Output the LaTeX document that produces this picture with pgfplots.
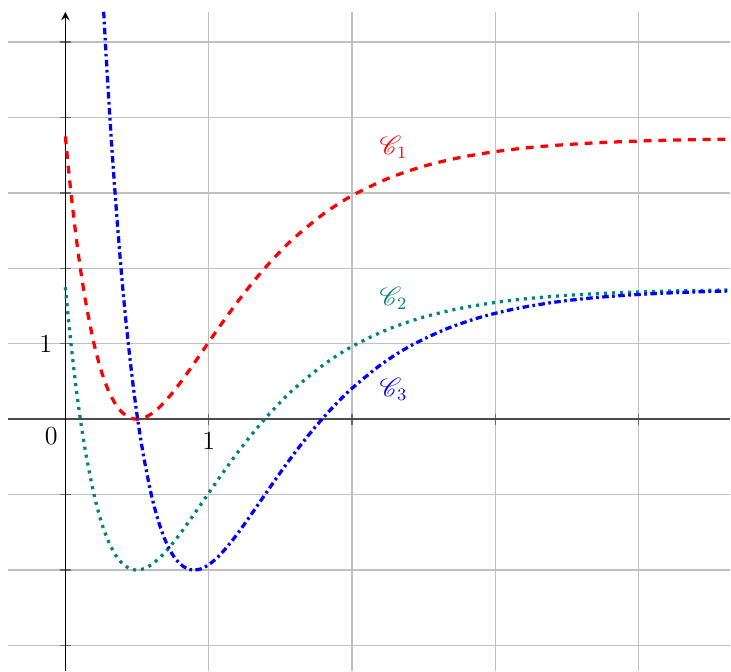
\documentclass[border=0pt]{standalone}
\usepackage{pgfplots}
\pgfplotsset{compat=1.18}
\usepackage{mathrsfs}

\begin{document}
\begin{tikzpicture}
\begin{axis}[
  scale only axis,
  width=332.6pt, height=303.6pt,
  xmin=-0.4, xmax=4.64,
  ymin=-3.34, ymax=5.4,
  axis lines=middle,
  axis line style={line width=0.7pt},
  x axis line style={-, black!70},
  y axis line style={-stealth},
  xtick={1,2,3,4}, xticklabels={1,{},{},{}},
  ytick={-3,-2,-1,1,2,3,4,5}, yticklabels={{},{},{},1,{},{},{},{}},
  tick label style={font=\large},
  tick align=center, major tick length=5pt,
  tick style={black!60, line width=0.6pt},
  grid=major, grid style={black!25, line width=0.6pt},
]
% C1
\addplot[red, line width=1.5pt, dash pattern=on 3.6pt off 3.2pt, smooth] coordinates {
  (0,3.75)(0.025,3.26)(0.05,2.82)(0.075,2.42)(0.1,2.06)(0.125,1.75)(0.15,1.47)
  (0.2,1.00)(0.25,0.644)(0.3,0.383)(0.35,0.200)(0.4,0.083)(0.45,0.019)(0.5,0)
  (0.55,0.019)(0.6,0.071)(0.65,0.148)(0.7,0.245)(0.75,0.357)(0.8,0.479)(0.85,0.610)
  (0.9,0.745)(1.0,1.020)(1.1,1.292)(1.2,1.552)(1.3,1.796)(1.4,2.020)(1.5,2.225)
  (1.6,2.409)(1.8,2.720)(2.0,2.964)(2.25,3.191)(2.5,3.354)(2.75,3.468)(3.0,3.548)
  (3.25,3.604)(3.5,3.642)(3.75,3.669)(4.0,3.688)(4.25,3.701)(4.5,3.710)(4.64,3.714)};
% C2
\addplot[teal, line width=1.5pt, dash pattern=on 1.4pt off 2.3pt, smooth] coordinates {
  (0,1.75)(0.025,1.26)(0.05,0.82)(0.075,0.42)(0.1,0.06)(0.125,-0.25)(0.15,-0.53)
  (0.2,-1.00)(0.25,-1.356)(0.3,-1.617)(0.35,-1.800)(0.4,-1.917)(0.45,-1.981)(0.5,-2)
  (0.55,-1.981)(0.6,-1.929)(0.65,-1.852)(0.7,-1.755)(0.75,-1.643)(0.8,-1.521)(0.85,-1.390)
  (0.9,-1.255)(1.0,-0.980)(1.1,-0.708)(1.2,-0.448)(1.3,-0.204)(1.4,0.020)(1.5,0.225)
  (1.6,0.409)(1.8,0.720)(2.0,0.964)(2.25,1.191)(2.5,1.354)(2.75,1.468)(3.0,1.548)
  (3.25,1.604)(3.5,1.642)(3.75,1.669)(4.0,1.688)(4.25,1.701)(4.5,1.710)(4.64,1.714)};
% C3
\addplot[blue, line width=1.5pt, dash pattern=on 3pt off 1.6pt on 1.2pt off 1.6pt, smooth] coordinates {
  (0.25,6.04)(0.26,5.67)(0.28,4.97)(0.30,4.33)(0.325,3.59)(0.35,2.92)(0.375,2.31)
  (0.4,1.75)(0.425,1.26)(0.45,0.82)(0.475,0.42)(0.5,0.06)(0.525,-0.25)(0.55,-0.53)
  (0.6,-1.00)(0.65,-1.356)(0.7,-1.617)(0.75,-1.800)(0.8,-1.917)(0.85,-1.981)(0.9,-2)
  (0.95,-1.981)(1.0,-1.929)(1.05,-1.852)(1.1,-1.755)(1.15,-1.643)(1.2,-1.521)(1.25,-1.390)
  (1.3,-1.255)(1.4,-0.980)(1.5,-0.708)(1.6,-0.448)(1.7,-0.204)(1.8,0.020)(1.9,0.225)
  (2.0,0.409)(2.2,0.720)(2.4,0.964)(2.65,1.191)(2.9,1.354)(3.15,1.468)(3.4,1.548)
  (3.65,1.604)(3.9,1.642)(4.15,1.669)(4.4,1.688)(4.64,1.700)};

\node[red, font=\large] at (axis cs:2.29,3.60) {$\mathscr{C}_1$};
\node[teal, font=\large] at (axis cs:2.29,1.60) {$\mathscr{C}_2$};
\node[blue, font=\large] at (axis cs:2.29,0.40) {$\mathscr{C}_3$};
\node[anchor=north east, font=\large] at (axis cs:0,0) {0};
\end{axis}
\path ([xshift=-3.7pt,yshift=5.5pt]current axis.north west);
\end{tikzpicture}
\end{document}
